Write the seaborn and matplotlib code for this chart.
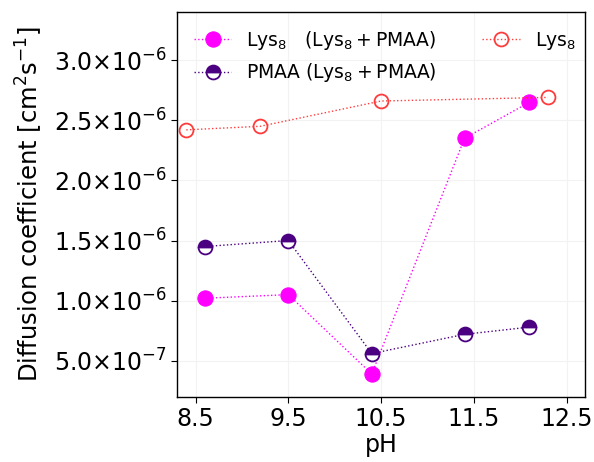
import numpy as np
import pandas as pd
import matplotlib
matplotlib.use("Agg")
import matplotlib.pyplot as plt
import matplotlib.ticker as mticker
import seaborn as sns

# Data
ph_complex = [8.6, 9.5, 10.4, 11.4, 12.1]
lys_in_complex = [1.02e-6, 1.05e-6, 0.39e-6, 2.35e-6, 2.65e-6]
pmaa_in_complex = [1.45e-6, 1.50e-6, 0.56e-6, 0.72e-6, 0.78e-6]
ph_lys = [8.4, 9.2, 10.5, 12.3]
lys_alone = [2.42e-6, 2.45e-6, 2.66e-6, 2.69e-6]

x_ticks = [8.5, 9.5, 10.5, 11.5, 12.5]
y_ticks = [0.5e-6, 1.0e-6, 1.5e-6, 2.0e-6, 2.5e-6, 3.0e-6]

sns.set_style("whitegrid", {"grid.color": "0.95", "axes.edgecolor": "black",
                            "text.color": "black", "axes.labelcolor": "black",
                            "xtick.color": "black", "ytick.color": "black"})

fig, ax = plt.subplots(figsize=(5.94, 4.62), dpi=100)

sns.lineplot(x=ph_complex, y=lys_in_complex, ax=ax, sort=False, color="magenta",
             linestyle=":", linewidth=1, marker="o", markersize=11,
             markeredgecolor="magenta", label=r"Lys$_8$   (Lys$_8 + $PMAA)")
sns.lineplot(x=ph_complex, y=pmaa_in_complex, ax=ax, sort=False, color="indigo",
             linestyle=":", linewidth=1, marker="o", markersize=10,
             fillstyle="top", markerfacecolor="indigo", markerfacecoloralt="white",
             markeredgecolor="indigo", markeredgewidth=1.3,
             label=r"PMAA (Lys$_8 + $PMAA)")
sns.lineplot(x=ph_lys, y=lys_alone, ax=ax, sort=False, color="#ff3c3c",
             linestyle=":", linewidth=1, marker="o", markersize=10,
             markerfacecolor="none", markeredgecolor="#ff3c3c", markeredgewidth=1.3,
             label=r"Lys$_8$")

def sci(v, pos):
    if v == 0:
        return "0"
    e = int(np.floor(np.log10(abs(v))))
    m = v / 10 ** e
    return r"$%.1f{\times}10^{%d}$" % (m, e)

ax.set_xlim(8.3, 12.7)
ax.set_ylim(0.2e-6, 3.4e-6)
ax.set_xticks(x_ticks)
ax.set_yticks(y_ticks)
ax.yaxis.set_major_formatter(mticker.FuncFormatter(sci))
ax.tick_params(axis="both", labelsize=17, length=4, color="black",
               labelcolor="black", bottom=True, left=True)
ax.set_xlabel("pH", fontsize=17, color="black", labelpad=1)
ax.set_ylabel(r"Diffusion coefficient [cm$^2$s$^{-1}$]", fontsize=17.5,
              color="black", labelpad=6)
for s in ax.spines.values():
    s.set_color("black")
    s.set_linewidth(1)

leg = ax.legend(ncol=2, frameon=False, loc="upper left", fontsize=13.5,
                bbox_to_anchor=(0.0, 1.0), columnspacing=2.4)
for t in leg.get_texts():
    t.set_color("black")

fig.subplots_adjust(left=0.298, right=0.985, top=0.974, bottom=0.141)
plt.savefig("out.png", dpi=100)
